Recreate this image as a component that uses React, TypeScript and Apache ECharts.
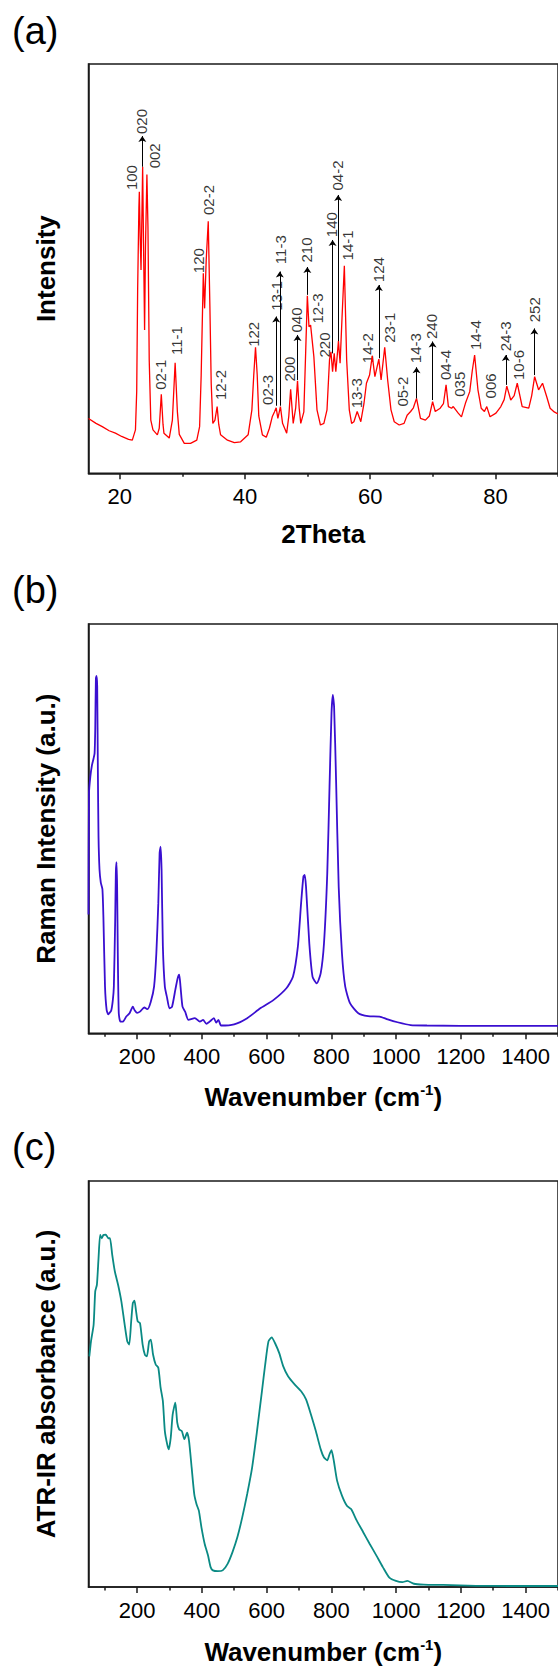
import React, { useEffect, useRef } from "react";
import * as echarts from "echarts";

const FONT = '"Liberation Sans", Arial, sans-serif';

// ---------- (a) XRD pattern ----------
const xrdTheta = [
  15.0, 16.2, 17.2, 18.3, 19.3, 20.3, 21.4, 22.0, 22.5, 22.7, 22.85, 23.05, 23.12, 23.25, 23.39, 23.5, 23.65,
  23.8, 23.96, 24.1, 24.33, 24.5, 24.7, 24.95, 25.3, 26.0, 26.3, 26.63, 26.9, 27.05, 27.9, 28.4, 28.84, 29.2,
  29.5, 30.3, 31.3, 32.3, 32.75, 33.0, 33.34, 33.55, 33.8, 34.13, 34.4, 34.6, 34.86, 35.2, 35.55, 35.8, 36.1,
  37.2, 38.3, 39.3, 40.5, 41.1, 41.4, 41.68, 41.95, 42.2, 42.78, 43.4, 43.9, 44.35, 44.7, 44.98, 45.25, 45.66,
  46.0, 46.66, 47.0, 47.29, 47.7, 48.1, 48.39, 48.65, 48.91, 49.4, 49.7, 49.96, 50.22, 50.48, 51.0, 51.5,
  52.05, 52.6, 53.1, 53.5, 53.73, 53.99, 54.25, 54.51, 54.93, 55.19, 55.5, 55.87, 56.24, 56.66, 57.03, 57.4,
  57.92, 58.5, 59.0, 59.4, 59.9, 60.33, 60.75, 61.38, 61.74, 62.32, 62.79, 63.32, 63.84, 64.63, 65.41, 65.9,
  66.46, 66.9, 67.4, 68.03, 68.82, 69.45, 69.97, 70.39, 71.18, 71.7, 72.12, 72.49, 73.0, 73.27, 74.06, 74.58,
  75.21, 75.9, 76.3, 76.68, 77.21, 77.73, 78.25, 78.62, 79.14, 80.09, 80.87, 81.4, 81.82, 82.45, 83.0, 83.49,
  84.28, 85.33, 85.8, 86.27, 86.9, 87.53, 88.2, 88.74, 89.4, 90.0,
];
const xrdIntensity = [
  13.4, 12.2, 11.4, 10.4, 9.8, 9.0, 8.3, 8.1, 10.6, 20.0, 44.8, 65.0, 68.8, 58.0, 49.7, 60.0, 74.9,
  55.0, 35.0, 55.0, 73.0, 60.0, 27.7, 13.0, 10.6, 9.4, 11.0, 19.3, 12.0, 9.8, 8.6, 13.0, 27.0, 15.0,
  9.5, 7.3, 7.3, 8.1, 11.4, 24.0, 48.9, 40.3, 52.0, 61.6, 40.0, 22.0, 12.2, 13.0, 16.3, 12.0, 9.4,
  8.1, 7.5, 7.7, 9.4, 15.5, 24.0, 30.8, 24.0, 14.0, 9.4, 8.8, 11.0, 13.8, 15.0, 16.0, 13.4, 16.3,
  12.2, 9.8, 14.0, 20.5, 12.2, 16.0, 22.6, 16.0, 12.2, 15.0, 30.0, 43.4, 35.8, 36.2, 28.5, 15.5,
  11.8, 12.2, 15.5, 27.7, 29.7, 24.8, 29.3, 24.8, 32.3, 26.9, 38.0, 50.7, 27.7, 15.5, 12.2, 12.6,
  15.1, 12.6, 17.0, 22.0, 24.0, 28.7, 23.6, 27.9, 22.8, 30.8, 22.8, 15.5, 12.6, 11.8, 12.2, 14.2,
  15.1, 16.0, 18.3, 13.4, 13.0, 14.0, 17.5, 15.1, 15.9, 17.0, 21.6, 16.3, 15.9, 16.3, 14.7, 13.8,
  17.1, 19.95, 25.0, 28.9, 20.4, 15.9, 15.1, 16.3, 13.8, 14.7, 16.3, 18.0, 21.3, 17.9, 19.0, 22.0,
  16.3, 15.9, 19.0, 23.6, 20.4, 22.0, 18.7, 15.9, 15.0, 14.5,
];

// hkl annotations of panel (a): label, position (2Theta), start height of text
const xrdPeakLabels = [
  "100", "020", "002", "02-1", "11-1", "120", "02-2", "12-2", "122", "02-3", "13-1", "11-3", "200", "040",
  "210", "12-3", "220", "140", "04-2", "14-1", "13-3", "14-2", "124", "23-1", "05-2", "14-3", "240", "04-4",
  "035", "14-4", "006", "24-3", "10-6", "252",
];
const xrdPeakLabelTheta = [
  21.92, 23.54, 25.48, 26.48, 29.0, 32.5, 34.23, 36.07, 41.42, 43.67, 45.03, 45.71, 47.08, 48.23,
  49.75, 51.52, 52.68, 53.88, 54.77, 56.4, 57.81, 59.49, 61.38, 63.16, 65.15, 67.25, 69.76, 71.96,
  74.32, 76.84, 79.14, 81.66, 83.66, 86.22,
];
const xrdPeakLabelHeight = [
  69.2, 82.9, 74.5, 20.4, 28.9, 48.9, 63.1, 17.9, 30.9, 16.7, 39.7, 51.1, 22.4, 34.4,
  51.5, 36.6, 28.3, 57.7, 69.1, 52.0, 15.9, 26.9, 46.7, 31.9, 16.3, 26.9, 32.8, 22.8,
  18.7, 30.1, 18.3, 29.8, 22.8, 36.9,
];
// arrows: position, from (peak) height, to (label) height
const xrdArrowTheta = [23.6, 44.98, 45.56, 48.39, 49.96, 53.99, 54.88, 61.38, 67.4, 69.97, 81.66, 86.22];
const xrdArrowFrom = [74.9, 16.5, 16.5, 22.8, 43.6, 29.3, 32.3, 28.1, 18.3, 17.9, 21.6, 24.0];
const xrdArrowTo = [82.4, 38.3, 49.3, 33.8, 50.4, 57.0, 68.0, 46.0, 25.9, 32.2, 28.9, 35.4];

const xrdMajorTicks = [20, 40, 60, 80];
const xrdMinorTicks = [30, 50, 70, 90];

// ---------- (b) Raman ----------
const ramanWavenumber = [
  50, 51.5, 55.7, 60.7, 65.8, 68.8, 70.8, 72.8, 74.8, 76.9, 78.9, 80.9, 84, 88, 93, 96, 101, 106, 111, 115,
  120, 125, 128.3, 132.4, 134.4, 136.4, 138.4, 140.5, 143.5, 148.5, 156.6, 166.7, 176.8, 186.9, 192, 200,
  209, 222.2, 232.3, 242.4, 252.5, 259.5, 265.6, 269.6, 272.7, 275.7, 279.7, 285.8, 292.9, 299.9, 308,
  318.1, 325.2, 330.2, 334.2, 340.3, 348.4, 358.5, 378.6, 393.8, 403.9, 414, 424.1, 437.2, 444.2, 451.3,
  459.4, 499.8, 540.1, 580.5, 620.9, 661.2, 681.4, 696.6, 706.6, 713.7, 717.7, 721.8, 731.9, 742, 755.1,
  767.2, 777.3, 787.4, 794.4, 800.5, 804.5, 808.5, 814.6, 822.7, 832.8, 842.9, 858, 883.3, 913.6, 948.9,
  974.1, 1004.4, 1044.8, 1095.3, 1300, 1500,
];
const ramanIntensity = [
  29.0, 58.6, 62.7, 65.5, 67.2, 68.4, 74.3, 86.7, 87.3, 84.7, 64.5, 48.2, 40.0, 36.8, 35.2, 28.5, 11.4, 5.7, 4.6, 5.0,
  5.5, 8.0, 11.4, 27.7, 39.1, 41.8, 35.8, 19.5, 4.9, 2.85, 2.85, 4.1, 4.9, 6.5, 5.7, 5.0,
  5.3, 6.3, 5.9, 7.7, 11.4, 19.5, 31.8, 44.0, 45.6, 39.9, 21.2, 11.4, 8.6, 6.1, 6.5,
  10.6, 13.4, 14.3, 11.4, 6.5, 5.3, 3.3, 3.7, 2.85, 3.3, 2.3, 2.85, 3.7, 2.6, 3.3,
  1.9, 2.2, 3.7, 6.1, 8.1, 11.0, 13.8, 21.2, 31.8, 38.3, 38.7, 35.8, 22.0, 13.8, 12.2,
  14.7, 22.0, 39.1, 60.3, 78.2, 82.7, 79.8, 61.9, 35.8, 19.5, 11.4, 7.3, 4.9, 4.2, 4.1,
  3.4, 2.7, 2.0, 1.9, 1.8, 1.8,
];

// ---------- (c) ATR-IR ----------
const irWavenumber = [
  52.6, 57.7, 65.8, 70.8, 75.9, 81, 86, 91, 96, 103.2, 111.2, 116.3, 123.3, 131.4, 141.5, 151.6, 161.7,
  169.7, 175.8, 181.8, 186.9, 191.9, 197, 202, 209.1, 217.2, 224.2, 230.3, 237.3, 242.4, 249.5, 257.5,
  265.6, 272.7, 279.7, 285.8, 292.9, 297.9, 304, 310, 318.1, 324.1, 330.2, 338.3, 346.3, 354.4, 360.5,
  368.6, 376.6, 383.7, 390.8, 398.8, 408.9, 419, 427.1, 434.2, 449.3, 464.4, 479.6, 494.7, 509.9, 525,
  540.1, 555.3, 570.4, 585.6, 595.7, 605.8, 615.9, 625.9, 639.1, 651.2, 666.3, 686.5, 706.7, 721.8, 737,
  752.1, 767.2, 777.3, 787.4, 794.4, 800.5, 807.6, 817.7, 832.8, 848, 861.1, 878.2, 898.4, 918.6, 938.8,
  959, 979.2, 999.4, 1019.5, 1034.7, 1054.9, 1085.2, 1145.7, 1246.7, 1347.6, 1500,
];
const irAbsorbance = [
  56.8, 60.5, 64.6, 72.8, 74.4, 81.0, 86.7, 85.9, 86.7, 86.8, 85.9, 85.9, 81.8, 77.7, 74.4, 70.3, 64.6,
  60.5, 59.7, 65.4, 69.9, 70.5, 67.9, 65.4, 65.0, 59.7, 57.2, 56.8, 60.5, 60.9, 57.2, 54.8,
  54.0, 49.1, 45.8, 38.4, 35.2, 33.9, 36.8, 42.5, 45.4, 40.5, 38.8, 38.4, 36.4, 38.0, 36.0,
  29.4, 22.9, 20.4, 18.8, 14.7, 10.6, 7.8, 4.9, 4.1, 3.9, 4.1, 5.7, 8.6, 12.3, 17.2,
  22.9, 29.4, 38.4, 48.2, 54.8, 60.5, 61.5, 60.1, 57.6, 54.4, 51.9, 49.9, 48.2, 46.2, 42.5,
  38.4, 33.9, 31.9, 31.2, 32.7, 33.7, 31.1, 26.2, 22.5, 20.0, 19.2, 16.4, 13.5, 10.6, 7.8,
  4.9, 2.3, 1.5, 1.2, 1.5, 0.8, 0.6, 0.5, 0.3, 0.25, 0.25,
];

const wnMajorTicks = [200, 400, 600, 800, 1000, 1200, 1400];
const wnMinorTicks = [100, 300, 500, 700, 900, 1100, 1300, 1500];

const FRAME = "#1a1a1a";

function zip(xs: number[], ys: number[]) {
  return xs.map((x, i) => [x, ys[i]]);
}

function majorAxis(gridIndex: number, min: number, max: number, ticks: number[], name: any, nameGap: number, rich?: any) {
  return {
    type: "value",
    gridIndex,
    position: "bottom",
    min,
    max,
    name,
    nameLocation: "middle",
    nameGap,
    nameTextStyle: {
      fontFamily: FONT,
      fontSize: 26,
      fontWeight: "bold",
      color: "#000",
      rich,
    },
    axisLine: { show: true, onZero: false, lineStyle: { color: FRAME, width: 1.5 } },
    axisTick: { show: true, inside: false, length: 6, lineStyle: { color: FRAME, width: 1.5 }, customValues: ticks },
    axisLabel: {
      show: true,
      customValues: ticks,
      formatter: (v: number) => String(v),
      fontFamily: FONT,
      fontSize: 22,
      color: "#000",
      margin: 12,
    },
    splitLine: { show: false },
  };
}

function minorAxis(gridIndex: number, min: number, max: number, ticks: number[]) {
  return {
    type: "value",
    gridIndex,
    position: "bottom",
    min,
    max,
    axisLine: { show: false, onZero: false },
    axisTick: { show: true, inside: false, length: 3.5, lineStyle: { color: FRAME, width: 1.5 }, customValues: ticks },
    axisLabel: { show: false },
    splitLine: { show: false },
  };
}

function yAxis(gridIndex: number, name: string) {
  return {
    type: "value",
    gridIndex,
    min: 0,
    max: 100,
    name,
    nameLocation: "middle",
    nameGap: 30,
    nameTextStyle: { fontFamily: FONT, fontSize: 26, fontWeight: "bold", color: "#000" },
    axisLine: { show: true, onZero: false, lineStyle: { color: FRAME, width: 1.5 } },
    axisTick: { show: false },
    axisLabel: { show: false },
    splitLine: { show: false },
  };
}

const wnRich = {
  t: { fontFamily: FONT, fontSize: 26, fontWeight: "bold", color: "#000", lineHeight: 30 },
  s: { fontFamily: FONT, fontSize: 15, fontWeight: "bold", color: "#000", lineHeight: 15, verticalAlign: "top" },
};
const wnName = "{t|Wavenumber (cm}{s|-1}{t|)}";

export default function App() {
  const ref = useRef<HTMLDivElement>(null);

  useEffect(() => {
    if (!ref.current) return;
    const chart = echarts.init(ref.current, null, { renderer: "svg" });

    const gridCommon = { left: 88.5, width: 477.5, show: true, borderColor: FRAME, borderWidth: 1.5, backgroundColor: "transparent" };

    const option: any = {
      animation: false,
      backgroundColor: "#fff",
      grid: [
        { ...gridCommon, top: 64, height: 409.3 },
        { ...gridCommon, top: 624, height: 409.3 },
        { ...gridCommon, top: 1181, height: 408 },
      ],
      xAxis: [
        majorAxis(0, 15, 90, xrdMajorTicks, "2Theta", 48),
        minorAxis(0, 15, 90, xrdMinorTicks),
        majorAxis(1, 50, 1500, wnMajorTicks, wnName, 49, wnRich),
        minorAxis(1, 50, 1500, wnMinorTicks),
        majorAxis(2, 50, 1500, wnMajorTicks, wnName, 50, wnRich),
        minorAxis(2, 50, 1500, wnMinorTicks),
      ],
      yAxis: [
        yAxis(0, "Intensity"),
        yAxis(1, "Raman Intensity (a.u.)"),
        yAxis(2, "ATR-IR absorbance (a.u.)"),
      ],
      graphic: [
        { type: "text", left: 12, top: 12, style: { text: "(a)", fontSize: 38, fontFamily: FONT, fill: "#000" } },
        { type: "text", left: 12, top: 571, style: { text: "(b)", fontSize: 38, fontFamily: FONT, fill: "#000" } },
        { type: "text", left: 12, top: 1128, style: { text: "(c)", fontSize: 38, fontFamily: FONT, fill: "#000" } },
      ],
      series: [
        {
          type: "line",
          xAxisIndex: 0,
          yAxisIndex: 0,
          data: zip(xrdTheta, xrdIntensity),
          showSymbol: false,
          symbol: "none",
          lineStyle: { color: "#ff0000", width: 1.3 },
          silent: true,
        },
        {
          type: "scatter",
          xAxisIndex: 0,
          yAxisIndex: 0,
          symbol: "circle",
          symbolSize: 2,
          itemStyle: { color: "rgba(0,0,0,0)" },
          silent: true,
          data: xrdPeakLabels.map((l, i) => ({ name: l, value: [xrdPeakLabelTheta[i], xrdPeakLabelHeight[i]] })),
          label: {
            show: true,
            position: "inside",
            rotate: 90,
            align: "left",
            verticalAlign: "middle",
            formatter: "{b}",
            fontFamily: FONT,
            fontSize: 15,
            color: "#000",
          },
          labelLayout: { hideOverlap: false },
          markLine: {
            silent: true,
            animation: false,
            symbol: ["none", "arrow"],
            symbolSize: 6,
            lineStyle: { color: "#000", width: 1, type: "solid" },
            label: { show: false },
            emphasis: { disabled: true },
            data: xrdArrowTheta.map((t, i) => [
              { coord: [t, xrdArrowFrom[i]] },
              { coord: [t, xrdArrowTo[i]] },
            ]),
          },
        },
        {
          type: "line",
          xAxisIndex: 2,
          yAxisIndex: 1,
          data: zip(ramanWavenumber, ramanIntensity),
          showSymbol: false,
          symbol: "none",
          smooth: 0.2,
          lineStyle: { color: "#3a0fd0", width: 1.8 },
          silent: true,
        },
        {
          type: "line",
          xAxisIndex: 4,
          yAxisIndex: 2,
          data: zip(irWavenumber, irAbsorbance),
          showSymbol: false,
          symbol: "none",
          smooth: 0.2,
          lineStyle: { color: "#0a8a84", width: 1.8 },
          silent: true,
        },
      ],
    };

    chart.setOption(option);
    return () => chart.dispose();
  }, []);

  return <div ref={ref} style={{ position: "absolute", left: 0, top: 0, width: 558, height: 1666 }} />;
}
